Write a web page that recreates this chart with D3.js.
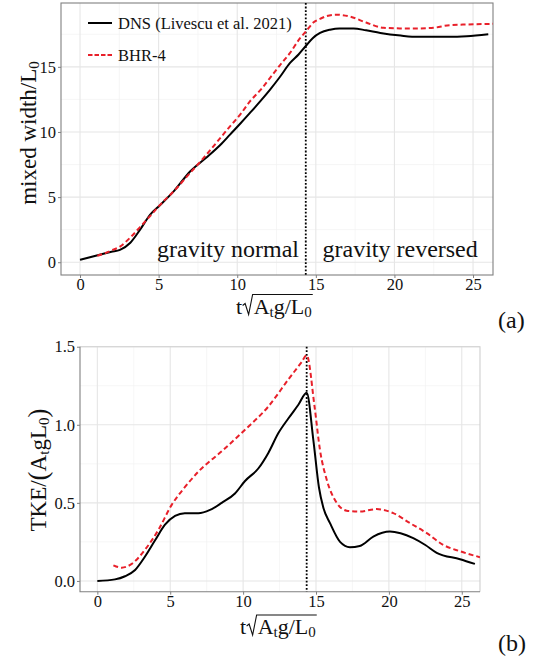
<!DOCTYPE html>
<html><head><meta charset="utf-8">
<script src="https://cdn.jsdelivr.net/npm/d3@7"></script>
<style>
body{margin:0;background:#fff}
svg{display:block}
svg text{font-family:"Liberation Serif",serif !important;fill:#111}
</style>
</head><body>
<svg id="c" width="533" height="659"></svg>
<script>
// ---------------- data ----------------
const tDnsW = [0,1,2,2.54,3.2,3.82,4.45,5.1,6,7,8,9,9.54,10.2,10.81,11.5,12.09,12.7,13.36,13.9,14.36,14.8,15.27,15.9,16.5,17.4,18.2,19.1,20.4,21.5,22.5,23.5,24.6,25.97];
const dnsW  = [0.18,0.5,0.8,0.95,1.5,2.5,3.64,4.4,5.5,6.97,8.0,9.1,9.8,10.65,11.46,12.4,13.25,14.2,15.3,15.95,16.6,17.2,17.6,17.85,17.95,17.95,17.8,17.6,17.4,17.3,17.3,17.3,17.35,17.5];
const tBhrW = [1.1,1.5,2,2.54,3.2,3.82,4.5,5.09,6,7,8,9,9.54,10.2,10.81,11.5,12.09,12.7,13.36,14.0,14.36,14.84,15.3,15.7,16.33,17.2,18.2,19.3,20.4,21.5,22.5,23.5,24.6,26.3];
const bhrW  = [0.5,0.65,0.9,1.2,1.9,2.7,3.6,4.4,5.5,6.85,8.2,9.65,10.43,11.35,12.35,13.25,14.15,15.1,16.07,17.2,17.7,18.4,18.7,18.9,19.0,18.85,18.4,18.0,17.95,17.95,18.0,18.2,18.25,18.3];

const tDnsK = [0,1.21,1.9,2.59,3.27,3.96,4.64,5.33,6.0,6.93,7.73,8.53,9.44,10.13,11.04,11.73,12.42,13.1,13.79,14.36,14.82,15.2,15.5,15.96,16.65,17.33,18.0,18.93,20.07,20.8,21.67,22.5,23.28,24.88,25.9];
const dnsK  = [0,0.01,0.03,0.07,0.156,0.26,0.36,0.417,0.434,0.434,0.455,0.50,0.56,0.64,0.72,0.82,0.947,1.04,1.128,1.205,0.90,0.60,0.47,0.37,0.25,0.216,0.224,0.284,0.316,0.305,0.274,0.23,0.18,0.139,0.109];
const tBhrK = [1.1,1.67,2.36,3.27,4.19,5.1,6.0,6.93,8.53,10.13,11.73,13.1,14.0,14.36,14.9,15.27,15.73,16.42,17.1,18.0,19.16,20.3,21.45,22.6,23.74,24.88,26.25];
const bhrK  = [0.10,0.085,0.109,0.2,0.327,0.487,0.60,0.70,0.83,0.968,1.117,1.29,1.40,1.445,1.117,0.84,0.65,0.50,0.45,0.444,0.46,0.434,0.37,0.306,0.23,0.19,0.152];

const xTicks = [0,5,10,15,20,25];
const xMinor = [2.5,7.5,12.5,17.5,22.5];
const wTicks = [0,5,10,15];
const wMinor = [2.5,7.5,12.5,17.5];
const kTicks = [0,0.5,1.0,1.5];
const kMinor = [0.25,0.75,1.25];
const tSwitch = 14.36;
const seriesNames = ["DNS (Livescu et al. 2021)","BHR-4"];
const regionLabels = ["gravity normal","gravity reversed"];

// ---------------- drawing ----------------
const svg = d3.select("#c");
svg.append("rect").attr("width",533).attr("height",659).attr("fill","#fff");
const RED = "#e8202a";
const AXIS = "#808080";

function panel(o){
  const x = d3.scaleLinear().domain(o.xd).range([o.l,o.r]);
  const y = d3.scaleLinear().domain(o.yd).range([o.b,o.t]);
  const g = svg.append("g");
  const id = "clip"+o.name;
  svg.append("clipPath").attr("id",id).append("rect")
    .attr("x",o.l).attr("y",o.t).attr("width",o.r-o.l).attr("height",o.b-o.t);
  g.selectAll(".mx").data(xMinor).join("line").attr("x1",d=>x(d)).attr("x2",d=>x(d))
    .attr("y1",o.t).attr("y2",o.b).attr("stroke","#f2f2f2").attr("stroke-width",0.7);
  g.selectAll(".my").data(o.ym).join("line").attr("y1",d=>y(d)).attr("y2",d=>y(d))
    .attr("x1",o.l).attr("x2",o.r).attr("stroke","#f2f2f2").attr("stroke-width",0.7);
  g.selectAll(".Mx").data(xTicks).join("line").attr("x1",d=>x(d)).attr("x2",d=>x(d))
    .attr("y1",o.t).attr("y2",o.b).attr("stroke","#e6e6e6").attr("stroke-width",1.1);
  g.selectAll(".My").data(o.yt).join("line").attr("y1",d=>y(d)).attr("y2",d=>y(d))
    .attr("x1",o.l).attr("x2",o.r).attr("stroke","#e6e6e6").attr("stroke-width",1.1);
  if(o.full){
    g.append("rect").attr("x",o.l).attr("y",o.t).attr("width",o.r-o.l).attr("height",o.b-o.t)
      .attr("fill","none").attr("stroke",AXIS).attr("stroke-width",1.1);
  } else {
    g.append("path").attr("d",`M${o.l},${o.t}H${o.r}V${o.b}`).attr("fill","none")
      .attr("stroke","#cfcfcf").attr("stroke-width",1.1);
    g.append("path").attr("d",`M${o.l},${o.t}V${o.b}H${o.r}`).attr("fill","none")
      .attr("stroke",AXIS).attr("stroke-width",1.1);
  }
  const xa = d3.axisBottom(x).tickValues(xTicks).tickSize(3).tickPadding(0.5).tickFormat(d3.format("d"));
  const ya = d3.axisLeft(y).tickValues(o.yt).tickSize(3).tickPadding(2).tickFormat(o.fmt);
  const gx = g.append("g").attr("transform",`translate(0,${o.b})`).call(xa);
  const gy = g.append("g").attr("transform",`translate(${o.l},0)`).call(ya);
  [gx,gy].forEach(a=>{
    a.attr("font-family",null).attr("font-size",null);
    a.select(".domain").remove();
    a.selectAll(".tick line").attr("stroke",AXIS);
    a.selectAll(".tick text").style("font-size","16.5px").attr("fill","#222");
  });
  g.append("line").attr("x1",x(tSwitch)).attr("x2",x(tSwitch)).attr("y1",o.t).attr("y2",o.b)
    .attr("stroke","#000").attr("stroke-width",1.8).attr("stroke-dasharray","1.8,1.8");
  const line = d3.line().x(d=>x(d[0])).y(d=>y(d[1])).curve(d3.curveMonotoneX);
  const lg = g.append("g").attr("clip-path",`url(#${id})`);
  lg.append("path").datum(d3.zip(o.t1,o.v1)).attr("d",line).attr("fill","none")
    .attr("stroke","#000").attr("stroke-width",2);
  lg.append("path").datum(d3.zip(o.t2,o.v2)).attr("d",line).attr("fill","none")
    .attr("stroke",RED).attr("stroke-width",2).attr("stroke-dasharray","5,3");
  return {x,y,g};
}

panel({name:"a",l:61,r:493,t:3,b:275,xd:[-1.21,26.27],yd:[-0.98,19.9],
  yt:wTicks,ym:wMinor,fmt:d3.format("d"),full:true,t1:tDnsW,v1:dnsW,t2:tBhrW,v2:bhrW});
panel({name:"b",l:80,r:480,t:346.7,b:591.7,xd:[-1.19,26.25],yd:[-0.069,1.5],
  yt:kTicks,ym:kMinor,fmt:d3.format(".1f"),full:false,t1:tDnsK,v1:dnsK,t2:tBhrK,v2:bhrK});

// legend
const leg = svg.append("g");
[0,1].forEach(i=>{
  const yy = 23 + i*32;
  leg.append("line").attr("x1",88).attr("x2",112).attr("y1",yy).attr("y2",yy)
    .attr("stroke",i===0?"#000":RED).attr("stroke-width",2)
    .attr("stroke-dasharray",i===0?null:"4.5,2");
  leg.append("text").attr("x",118).attr("y",yy+6).style("font-size","16.5px").text(seriesNames[i]);
});

// region labels
svg.append("text").attr("x",157).attr("y",257).style("font-size","24px").text(regionLabels[0]);
svg.append("text").attr("x",322.5).attr("y",257).style("font-size","24px").text(regionLabels[1]);

// x axis title with radical
function xTitle(x0, base){
  const fs = 22, g = svg.append("g");
  const t1 = g.append("text").attr("x",x0).attr("y",base).style("font-size",fs+"px").text("t");
  const tw = t1.node().getComputedTextLength();
  const rx = x0 + tw + 0.5;
  const over = base - 19;
  const rad = g.append("text").attr("x",rx+11).attr("y",base).style("font-size",fs+"px");
  rad.append("tspan").text("A");
  rad.append("tspan").style("font-size","15px").attr("dy",3).text("t");
  rad.append("tspan").attr("dy",-3).text("g/L");
  rad.append("tspan").style("font-size","15px").attr("dy",3).text("0");
  const rw = rad.node().getComputedTextLength();
  g.append("path").attr("d",`M${rx},${base-8}L${rx+2.5},${base-10}L${rx+6},${base+1}L${rx+10},${over}H${rx+11+rw+1}`)
    .attr("fill","none").attr("stroke","#111").attr("stroke-width",1.1);
}
xTitle(236, 313.5);
xTitle(240, 634);

// y axis titles
function yTitle(cx, cy, build){
  const t = svg.append("text").attr("transform",`translate(${cx},${cy}) rotate(-90)`)
    .attr("text-anchor","middle").style("font-size","23px");
  build(t);
}
yTitle(36, 133, t=>{
  t.append("tspan").text("mixed width/L");
  t.append("tspan").style("font-size","15px").attr("dy",3).text("0");
});
yTitle(46, 470, t=>{
  t.append("tspan").text("TKE/");
  t.append("tspan").style("font-size","27px").attr("dy",1).text("(");
  t.append("tspan").attr("dy",-1).text("A");
  t.append("tspan").style("font-size","15px").attr("dy",3).text("t");
  t.append("tspan").attr("dy",-3).text("gL");
  t.append("tspan").style("font-size","15px").attr("dy",3).text("0");
  t.append("tspan").style("font-size","27px").attr("dy",-2).text(")");
});

// panel tags
svg.append("text").attr("x",498).attr("y",328).style("font-size","24px").text("(a)");
svg.append("text").attr("x",498).attr("y",651).style("font-size","24px").text("(b)");
</script>
</body></html>
